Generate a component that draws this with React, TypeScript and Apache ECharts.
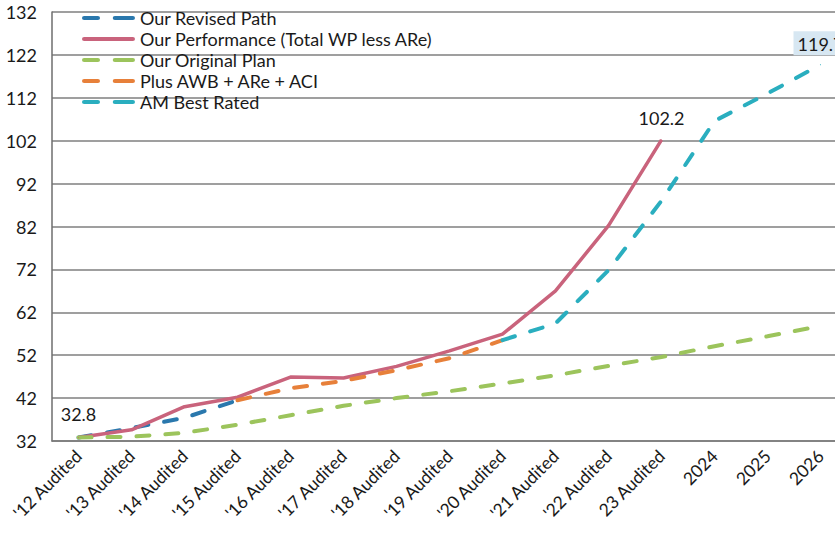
import React, { useEffect, useRef } from "react";
import * as echarts from "echarts";

const categories = [
  "'12 Audited", "'13 Audited", "'14 Audited", "'15 Audited", "'16 Audited",
  "'17 Audited", "'18 Audited", "'19 Audited", "'20 Audited", "'21 Audited",
  "'22 Audited", "23 Audited", "2024", "2025", "2026",
];

const revisedPath = [32.8, 35.0, 37.4, 41.5, null, null, null, null, null, null, null, null, null, null, null];
const performance = [32.8, 34.6, 40.0, 42.2, 46.9, 46.7, 49.4, 53.0, 56.9, 67.0, 82.2, 102.2, null, null, null];
const originalPlan = [32.8, 33.0, 33.9, 35.8, 38.0, 40.2, 42.0, 43.6, 45.4, 47.3, 49.5, 51.6, 54.1, 56.4, 58.8];
const plusAwb = [null, null, null, 41.5, 44.3, 46.0, 48.5, 51.3, 55.5, null, null, null, null, null, null];
const amBest = [null, null, null, null, null, null, null, null, 55.5, 59.4, 71.8, 88.0, 106.6, 113.0, 119.7];

const labelledPerformance = [0, 11];
const labelledAmBest = [14];

const yMin = 32;
const yMax = 132;
const yStep = 10;

const FONT = "Lato, 'Noto Sans', sans-serif";

const DASH_ICON = "path://M2,0h13a2,2 0 0 1 0,4h-13a2,2 0 0 1 0,-4z M31,0h17a2,2 0 0 1 0,4h-17a2,2 0 0 1 0,-4z";
const SOLID_ICON = "path://M2,0h46a2,2 0 0 1 0,4h-46a2,2 0 0 1 0,-4z";

export default function App() {
  const ref = useRef<HTMLDivElement>(null);
  useEffect(() => {
    if (!ref.current) return;
    const chart = echarts.init(ref.current, null, { renderer: "svg" });
    const dash = (color: string) => ({
      color,
      width: 4,
      type: [13, 16] as any,
      cap: "round" as any,
    });
    const labelText = { fontFamily: FONT, fontSize: 18, color: "#1a1a1a" };
    const perfData = performance.map((v, i) =>
      labelledPerformance.includes(i)
        ? {
            value: v,
            symbol: "circle",
            symbolSize: 1,
            label: { show: true, position: "top", distance: i === 0 ? 14 : 12, formatter: "{c}", ...labelText },
          }
        : v
    );
    const amData = amBest.map((v, i) =>
      labelledAmBest.includes(i)
        ? {
            value: v,
            symbol: "circle",
            symbolSize: 1,
            label: {
              show: true,
              position: "top",
              distance: 9,
              formatter: "{c}",
              ...labelText,
              backgroundColor: "#d7e7f2",
              padding: [4, 4, 2, 4],
            },
          }
        : v
    );
    chart.setOption({
      animation: false,
      backgroundColor: "#ffffff",
      textStyle: { fontFamily: FONT },
      grid: { left: 52, right: 13, top: 12, bottom: 92, containLabel: false },
      legend: {
        orient: "vertical",
        left: 82,
        top: 9,
        padding: 0,
        itemWidth: 53,
        itemHeight: 5,
        itemGap: 3,
        textStyle: { fontFamily: FONT, fontSize: 18, color: "#1a1a1a", lineHeight: 18 },
        data: [
          { name: "Our Revised Path", icon: DASH_ICON },
          { name: "Our Performance (Total WP less ARe)", icon: SOLID_ICON },
          { name: "Our Original Plan", icon: DASH_ICON },
          { name: "Plus AWB + ARe + ACI", icon: DASH_ICON },
          { name: "AM Best Rated", icon: DASH_ICON },
        ],
      },
      xAxis: {
        type: "category",
        data: categories,
        boundaryGap: true,
        axisLine: { show: true, lineStyle: { color: "#7a7a7a", width: 1.5 } },
        axisTick: { show: false },
        axisLabel: {
          rotate: 45,
          interval: 0,
          margin: 12,
          fontFamily: FONT,
          fontSize: 17.5,
          color: "#1a1a1a",
        },
      },
      yAxis: {
        type: "value",
        min: yMin,
        max: yMax,
        interval: yStep,
        axisLine: { show: true, lineStyle: { color: "#6e6e6e", width: 1.5 } },
        axisTick: { show: false },
        axisLabel: { fontFamily: FONT, fontSize: 18, color: "#1a1a1a", margin: 15 },
        splitLine: { show: true, lineStyle: { color: "#7f7f7f", width: 1.5 } },
      },
      series: [
        {
          name: "Our Revised Path",
          type: "line",
          data: revisedPath,
          symbol: "none",
          lineStyle: dash("#2a78ad"),
          itemStyle: { color: "#2a78ad" },
        },
        {
          name: "Our Performance (Total WP less ARe)",
          type: "line",
          data: perfData,
          symbol: "none",
          lineStyle: { color: "#c9637c", width: 3.5 },
          itemStyle: { color: "#c9637c" },
        },
        {
          name: "Our Original Plan",
          type: "line",
          data: originalPlan,
          symbol: "none",
          lineStyle: dash("#9cc45c"),
          itemStyle: { color: "#9cc45c" },
        },
        {
          name: "Plus AWB + ARe + ACI",
          type: "line",
          data: plusAwb,
          symbol: "none",
          lineStyle: dash("#e7803a"),
          itemStyle: { color: "#e7803a" },
        },
        {
          name: "AM Best Rated",
          type: "line",
          data: amData,
          symbol: "none",
          lineStyle: dash("#2aaebf"),
          itemStyle: { color: "#2aaebf" },
        },
      ],
    });
    return () => chart.dispose();
  }, []);
  return (
    <div
      style={{
        position: "fixed",
        left: 0,
        top: 0,
        width: 835,
        height: 533,
        overflow: "hidden",
        background: "#fff",
      }}
    >
      <div ref={ref} style={{ width: 860, height: 533 }} />
    </div>
  );
}
